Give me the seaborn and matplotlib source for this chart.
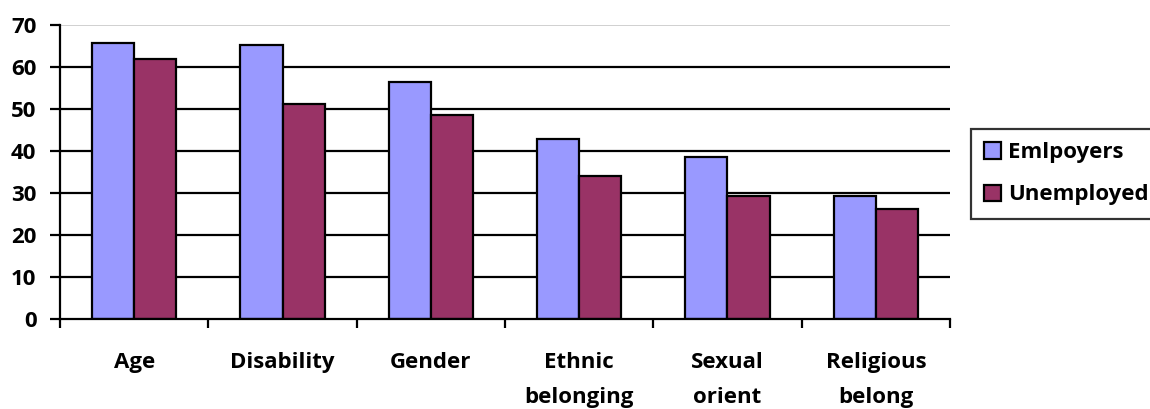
import matplotlib
matplotlib.use("Agg")
import matplotlib.pyplot as plt
import seaborn as sns
import pandas as pd
from matplotlib.ticker import FixedLocator

categories = ["Age", "Disability", "Gender", "Ethnic\nbelonging", "Sexual\norient", "Religious\nbelong"]
employers = [65.6, 65.2, 56.4, 42.9, 38.5, 29.4]
unemployed = [62.0, 51.2, 48.6, 34.0, 29.4, 26.2]
series_names = ["Emlpoyers", "Unemployed"]
y_ticks = [0, 10, 20, 30, 40, 50, 60, 70]

df = pd.DataFrame({
    "category": categories * 2,
    "value": employers + unemployed,
    "group": [series_names[0]] * len(categories) + [series_names[1]] * len(categories),
})

sns.set_style("white")
plt.rcParams["font.family"] = ["Open Sans", "DejaVu Sans"]
plt.rcParams["font.weight"] = "bold"
plt.rcParams["text.color"] = "black"
plt.rcParams["xtick.color"] = "black"
plt.rcParams["ytick.color"] = "black"

FS = 16

fig = plt.figure(figsize=(11.5, 4.09), dpi=100)
ax = fig.add_axes([60 / 1150, 1 - 319 / 409, 890 / 1150, 294 / 409])

palette = {series_names[0]: "#9999FF", series_names[1]: "#993366"}
sns.barplot(data=df, x="category", y="value", hue="group", palette=palette,
            width=0.57, edgecolor="black", linewidth=1.6, ax=ax, legend=False,
            saturation=1, zorder=3)

ax.set_xlim(-0.5, len(categories) - 0.5)
ax.set_ylim(0, 70)
ax.set_yticks(y_ticks)
ax.set_yticklabels([str(t) for t in y_ticks], fontsize=FS, fontweight="bold")

# horizontal gridlines
for t in y_ticks[1:-1]:
    ax.axhline(t, color="black", lw=1.6, zorder=1)
ax.axhline(70, color="#c8c8c8", lw=1.2, zorder=1)

# category labels at centres, tick marks at the category boundaries
ax.set_xticks(range(len(categories)))
ax.set_xticklabels(categories, fontsize=FS, fontweight="bold", linespacing=1.9)
ax.tick_params(axis="x", which="major", length=0, pad=23.5)
ax.xaxis.set_minor_locator(FixedLocator([i - 0.5 for i in range(len(categories) + 1)]))
ax.tick_params(axis="x", which="minor", length=6.5, width=1.6, color="black", direction="out", bottom=True)
ax.tick_params(axis="y", length=7.5, width=1.6, color="black", direction="out", left=True, pad=9.5)

ax.set_xlabel("")
ax.set_ylabel("")
for s in ["top", "right"]:
    ax.spines[s].set_visible(False)
for s in ["left", "bottom"]:
    ax.spines[s].set_color("black")
    ax.spines[s].set_linewidth(1.6)
    ax.spines[s].set_zorder(4)

handles = [plt.Rectangle((0, 0), 1, 1, facecolor=palette[n], edgecolor="black", lw=1.6) for n in series_names]
leg = fig.legend(handles, series_names, loc="upper left", bbox_to_anchor=(971 / 1150, 1 - 129 / 409),
                 frameon=True, fancybox=False, edgecolor="black", prop={"size": FS, "weight": "bold"},
                 handlelength=0.75, handleheight=0.75, handletextpad=0.3, labelspacing=0.95,
                 borderpad=0.6, borderaxespad=0)
leg.get_frame().set_linewidth(1.6)

fig.savefig("out.png", dpi=100)
